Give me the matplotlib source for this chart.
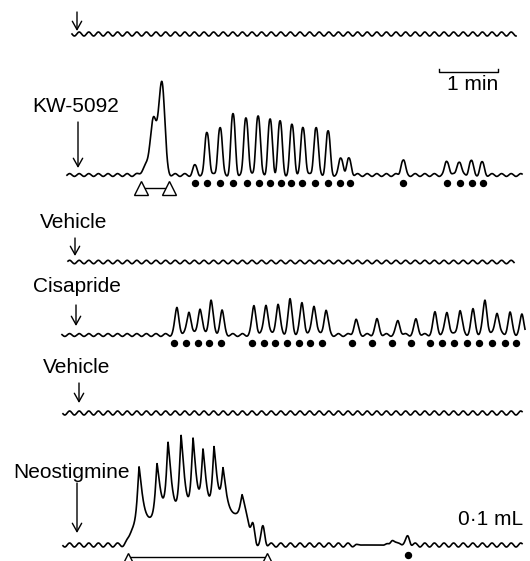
import numpy as np
import matplotlib.pyplot as plt

plt.rcParams['font.family'] = ['Liberation Sans', 'DejaVu Sans']

# --- data (x along the chart, heights in px above baseline) ---
# top trace (no label)
top_span = (72, 516)

# KW-5092
kw_span = (67, 522)
kw_complex_x = [145, 153, 158, 162]
kw_complex_h = [8, 53, 14, 89]
kw_peaks_x = [195, 207, 220, 233, 246, 258, 270, 280, 292, 303, 316, 328, 341, 349,
              403, 447, 459, 471, 482]
kw_peaks_h = [9, 43, 48, 60, 58, 60, 55, 53, 50, 48, 48, 43, 17, 16,
              15, 14, 14, 14, 12]
kw_dots_x = [195, 207, 220, 233, 247, 259, 270, 281, 291, 302, 315, 328, 340, 350,
             403, 447, 460, 472, 483]
kw_triangles_x = [141, 169]

# Vehicle (1)
veh1_span = (68, 514)

# Cisapride
cis_span = (62, 525)
cis_peaks_x = [177, 189, 200, 211, 222,
               254, 266, 278, 290, 302, 314, 326,
               356, 377, 398, 416,
               435, 447, 460, 473, 485, 497, 510, 522]
cis_peaks_h = [27, 24, 27, 35, 24,
               29, 31, 31, 35, 32, 30, 25,
               15, 15, 14, 15,
               22, 23, 25, 25, 35, 23, 22, 20]
cis_dots_x = [174, 186, 198, 209, 221,
              252, 264, 275, 287, 299, 310, 322,
              352, 372, 392, 411,
              430, 442, 454, 467, 479, 492, 505, 516]

# Vehicle (2)
veh2_span = (63, 522)

# Neostigmine
neo_span = (63, 522)
neo_peaks_x = [139, 157, 168, 181, 193, 203, 214, 223, 242]
neo_peaks_h = [88, 84, 101, 109, 105, 92, 96, 72, 51]
neo_osc_x = [253, 263, 392, 400, 408]
neo_osc_h = [17, 18, 6, 3, 9]
neo_plateau = (129, 249, 30)   # start, end, level
neo_flat = (356, 386)          # stretch with no ripple
neo_dots_x = [408]
neo_triangles_x = [128, 267]


def ripple(x, amp, period=9.6, phase=0.0):
    return amp * np.sin(2 * np.pi * x / period + phase)


def pulses(x, centers, heights, wl, wr, p=2.0):
    y = np.zeros_like(x)
    for c, h in zip(centers, heights):
        d = x - c
        w = np.where(d < 0, wl, wr)
        y += h * np.exp(-0.5 * np.abs(d / w) ** p)
    return y


def window(x, a, b, s=2.0):
    return 1 / (1 + np.exp(-(x - a) / s)) / (1 + np.exp((x - b) / s))


fig = plt.figure(figsize=(5.3, 5.61), dpi=100)
ax = fig.add_axes([0, 0, 1, 1])
ax.set_xlim(0, 530)
ax.set_ylim(561, 0)
ax.axis('off')

line_kw = dict(color='black', lw=1.2, solid_joinstyle='round')


def draw(span, base, signal_fn, amp=1.8, mask_fn=None):
    x = np.linspace(span[0], span[1], 2500)
    r = ripple(x, amp)
    if mask_fn is not None:
        r = r * mask_fn(x)
    y = r + signal_fn(x)
    ax.plot(x, base - y, **line_kw)


# top trace
draw(top_span, 34, lambda x: 0 * x, amp=2.0)

# KW-5092
def kw_sig(x):
    s = pulses(x, kw_complex_x, kw_complex_h, 3.0, 2.8)
    s += pulses(x, kw_peaks_x, kw_peaks_h, 2.2, 2.3, p=2.4)
    return s
draw(kw_span, 175, kw_sig, amp=1.4)

# Vehicle 1
draw(veh1_span, 262, lambda x: 0 * x, amp=1.7)

# Cisapride
draw(cis_span, 335, lambda x: pulses(x, cis_peaks_x, cis_peaks_h, 2.0, 2.0, p=1.8), amp=1.4)

# Vehicle 2
draw(veh2_span, 413, lambda x: 0 * x, amp=2.0)

# Neostigmine
a, b, lev = neo_plateau


def neo_sig(x):
    plat = lev * window(x, a, b, 1.8)
    plat *= np.clip(0.55 + 0.45 * (x - a) / 35.0, 0.55, 1.0)
    amps = [h - lev for h in neo_peaks_h]
    s = plat + pulses(x, neo_peaks_x, amps, 1.4, 2.6, p=1.3)
    s += pulses(x, neo_osc_x, neo_osc_h, 1.8, 1.8)
    return s


def neo_mask(x):
    return (1 - window(x, a, b + 2, 1.5)) * (1 - window(x, neo_flat[0], neo_flat[1], 1.5))


draw(neo_span, 545, neo_sig, amp=2.0, mask_fn=neo_mask)

# markers
ax.plot(kw_dots_x, [183] * len(kw_dots_x), 'o', color='black', ms=4.3)
ax.plot(cis_dots_x, [343] * len(cis_dots_x), 'o', color='black', ms=4.3)
ax.plot(neo_dots_x, [555] * len(neo_dots_x), 'o', color='black', ms=4.3)

ax.plot(kw_triangles_x, [187.5] * 2, color='black', lw=1.0)
ax.plot(kw_triangles_x, [187.5] * 2, '^', ms=9.5, mfc='white', mec='black', mew=1.0)
ax.plot(neo_triangles_x, [557] * 2, color='black', lw=1.0)
ax.plot(neo_triangles_x, [560] * 2, '^', ms=9.5, mfc='white', mec='black', mew=1.0)

# arrows
arrows = [(77, 12, 31), (78, 122, 168), (75, 238, 256), (76, 305, 326),
          (79, 383, 403), (77, 483, 533)]
for x, y0, y1 in arrows:
    ax.annotate('', xy=(x, y1), xytext=(x, y0),
                arrowprops=dict(arrowstyle='->,head_length=0.5,head_width=0.28',
                                lw=1.0, color='black', mutation_scale=12,
                                shrinkA=0, shrinkB=0))

# labels
fs = 15
ax.text(32, 112, 'KW-5092', fontsize=fs, va='baseline', ha='left')
ax.text(40, 228, 'Vehicle', fontsize=fs, va='baseline', ha='left')
ax.text(33, 292, 'Cisapride', fontsize=fs, va='baseline', ha='left')
ax.text(43, 373, 'Vehicle', fontsize=fs, va='baseline', ha='left')
ax.text(13, 478, 'Neostigmine', fontsize=fs, va='baseline', ha='left')

# scale bars
ax.plot([439, 439, 498, 498], [69, 72, 72, 69], color='black', lw=1.0)
ax.text(473, 90, '1 min', fontsize=fs, va='baseline', ha='center')
ax.text(458, 525, '0\u00b71 mL', fontsize=fs, va='baseline', ha='left')

fig.savefig('out.png', dpi=100)
